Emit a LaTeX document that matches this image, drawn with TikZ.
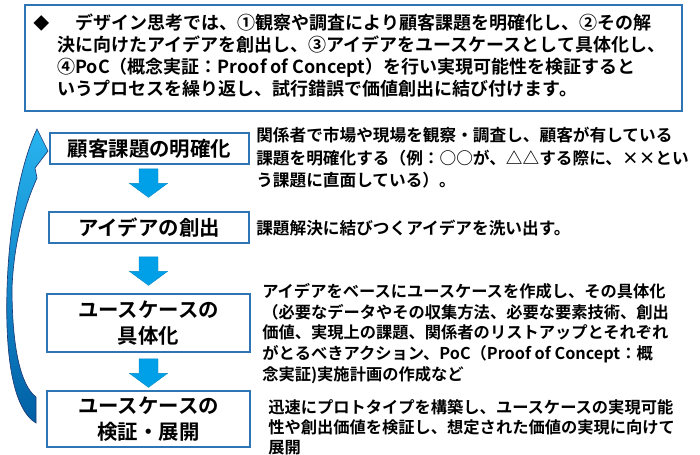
\documentclass[tikz,border=0pt]{standalone}
\usepackage{fontspec}
\setmainfont{Noto Sans CJK JP}[BoldFont={Noto Sans CJK JP Bold}]
\usetikzlibrary{calc}
\definecolor{boxblue}{RGB}{46,117,182}
\definecolor{arrblue}{RGB}{0,160,233}
\definecolor{curvetop}{RGB}{40,180,240}
\definecolor{curvebot}{RGB}{0,95,165}
\definecolor{curveline}{RGB}{30,60,120}
\newcommand\blockdown[1]{\path[blockarr,shift={#1}] (-9.5,0) -- (9.5,0) -- (9.5,14.5) -- (19,14.5) -- (0,28.5) -- (-19,14.5) -- (-9.5,14.5) -- cycle;}
\begin{document}
\begin{tikzpicture}[x=0.75pt,y=-0.75pt,
  flowbox/.style={draw=boxblue,line width=1.3pt,fill=white,inner sep=0pt,align=center,
    font=\fontsize{15.3pt}{19.5pt}\selectfont\bfseries},
  desc/.style={anchor=west,inner sep=0pt,align=left},
  blockarr/.style={fill=arrblue,draw=arrblue!85!black,line width=0.3pt}]
\useasboundingbox (0,0) rectangle (700,454);
% top frame
\node[draw=boxblue,line width=1.5pt,minimum width=492.75pt,minimum height=79.5pt,inner sep=0pt] (topbox) at (353.5,58) {};
\node[inner sep=0pt,font=\fontsize{12pt}{14pt}\selectfont] (bullet) at (41.5,23) {◆};
\node[desc,font=\fontsize{13.5pt}{16.5pt}\selectfont\bfseries] (toptext) at (57,56) {%
\hspace*{14pt}デザイン思考では、①観察や調査により顧客課題を明確化し、②その解\\
決に向けたアイデアを創出し、③アイデアをユースケースとして具体化し、\\
④PoC（概念実証：Proof of Concept）を行い実現可能性を検証すると\\
いうプロセスを繰り返し、試行錯誤で価値創出に結び付けます。};
% flow boxes
\node[flowbox,minimum width=149.25pt,minimum height=23.25pt] (b1) at (149.5,148.5) {顧客課題の明確化};
\node[flowbox,minimum width=150pt,minimum height=23.25pt] (b2) at (149,227.5) {アイデアの創出};
\node[flowbox,minimum width=152.25pt,minimum height=43.5pt] (b3) at (148.5,323) {ユースケースの\\具体化};
\node[flowbox,minimum width=152.25pt,minimum height=42pt] (b4) at (148.5,419) {ユースケースの\\検証・展開};
% block arrows
\blockdown{($(b1.south)+(-1,4)$)}
\blockdown{($(b2.south)+(-0.5,13)$)}
\blockdown{($(b3.south)+(0,6)$)}
% curved return arrow
\shade[top color=curvetop,bottom color=curvebot,draw=curveline,line width=0.5pt]
  (37,129) .. controls (22,160) and (9,220) .. (7,290)
  .. controls (5,360) and (14,410) .. (36,423) -- (36,397)
  .. controls (20,385) and (12,345) .. (12,288)
  .. controls (14,240) and (25,205) .. (37,178) -- (35,168) -- (48,151) -- cycle;
% descriptions
\node[desc,font=\fontsize{12.5pt}{16.9pt}\selectfont\bfseries] (d1) at (256,157.7) {%
関係者で市場や現場を観察・調査し、顧客が有している\\
課題を明確化する（例：○○が、△△する際に、××とい\\
う課題に直面している）。};
\node[desc,font=\fontsize{12.5pt}{16pt}\selectfont\bfseries] (d2) at (256,228) {課題解決に結びつくアイデアを洗い出す。};
\node[desc,font=\fontsize{12.2pt}{15.6pt}\selectfont\bfseries] (d3) at (262,333.5) {%
アイデアをベースにユースケースを作成し、その具体化\\
（必要なデータやその収集方法、必要な要素技術、創出\\
価値、実現上の課題、関係者のリストアップとそれぞれ\\
がとるべきアクション、PoC（Proof of Concept：概\\
念実証)実施計画の作成など};
\node[desc,font=\fontsize{12.2pt}{15pt}\selectfont\bfseries] (d4) at (268,427) {%
迅速にプロトタイプを構築し、ユースケースの実現可能\\
性や創出価値を検証し、想定された価値の実現に向けて\\
展開};
\end{tikzpicture}
\end{document}
